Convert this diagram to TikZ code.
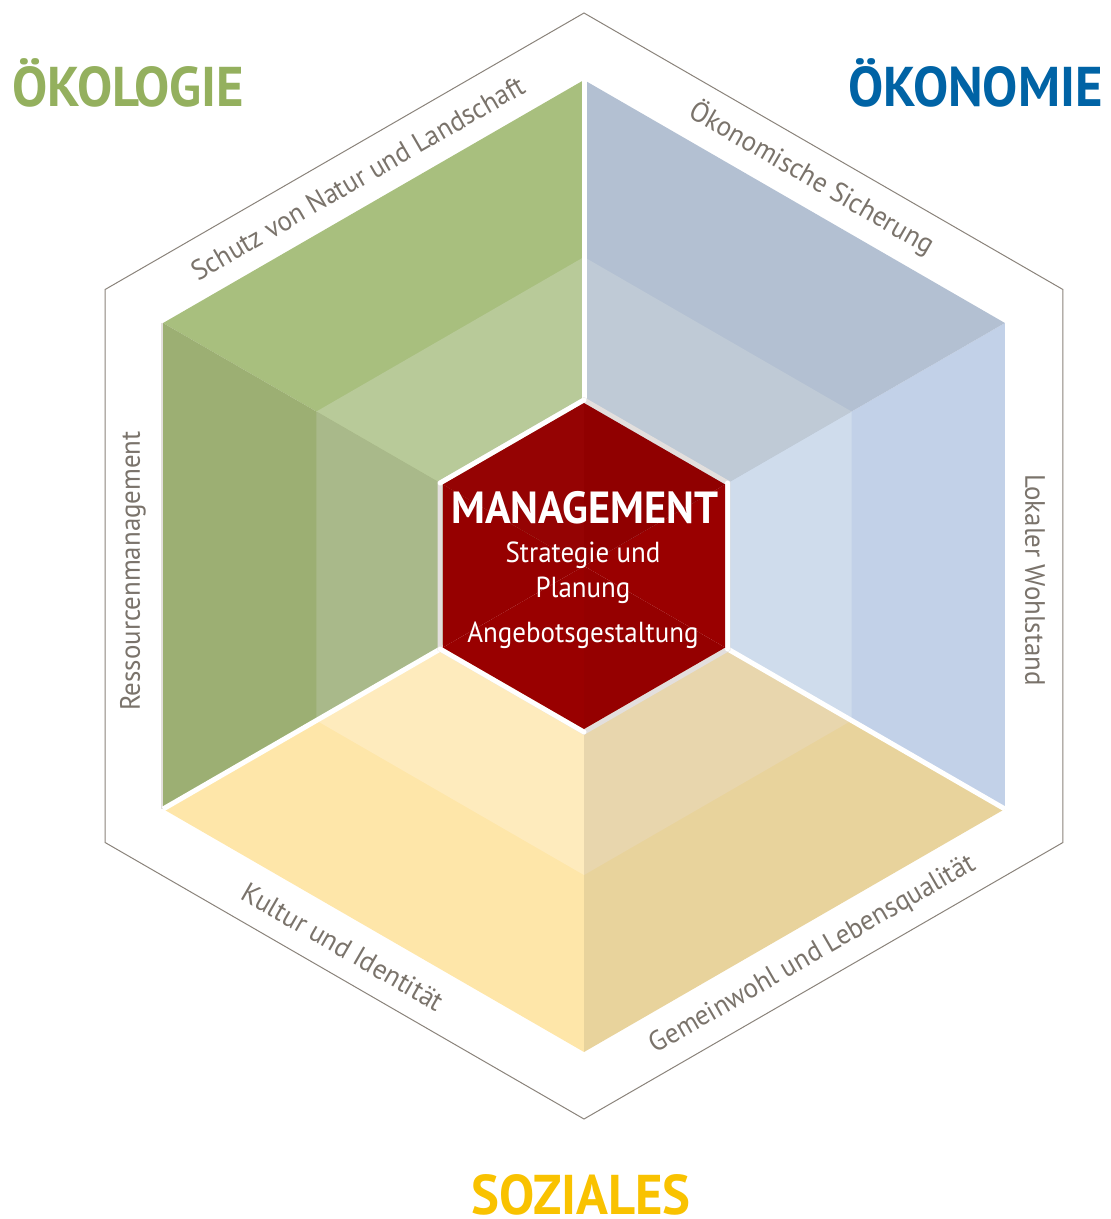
\documentclass[tikz,border=0pt]{standalone}
\usepackage{fontspec}
\setmainfont{PT Sans}
\newfontfamily\titlefont{PT Sans}[FakeStretch=0.94]
\newfontfamily\condfont{PT Sans}[FakeStretch=0.93]
\newfontfamily\labfont{PT Sans}[FakeStretch=0.96]
\definecolor{hexline}{HTML}{8A837B}
\definecolor{labgray}{HTML}{7A736B}
\definecolor{gOutA}{HTML}{A8BF7E}
\definecolor{gInA}{HTML}{B8CA99}
\definecolor{gOutB}{HTML}{9CAF73}
\definecolor{gInB}{HTML}{A9B98A}
\definecolor{yOutA}{HTML}{FEE6A9}
\definecolor{yInA}{HTML}{FEEBBD}
\definecolor{yOutB}{HTML}{E8D39C}
\definecolor{yInB}{HTML}{E8D6AD}
\definecolor{bOutA}{HTML}{C2D1E8}
\definecolor{bInA}{HTML}{CFDCEC}
\definecolor{bOutB}{HTML}{B3C0D2}
\definecolor{bInB}{HTML}{BFCAD6}
\definecolor{redA}{HTML}{950303}
\definecolor{redB}{HTML}{960000}
\definecolor{redC}{HTML}{990000}
\definecolor{redD}{HTML}{950000}
\definecolor{redE}{HTML}{9A0000}
\definecolor{redF}{HTML}{900000}
\definecolor{bevel}{HTML}{E3DFDD}
\definecolor{okogreen}{HTML}{94B05E}
\definecolor{okoblue}{HTML}{0063A5}
\definecolor{sozgold}{HTML}{F9C200}
\tikzset{
  titletext/.style={font=\titlefont\bfseries\fontsize{56}{60}\selectfont, inner sep=0pt},
  edgelabel/.style={font=\labfont\fontsize{28}{30}\selectfont, text=labgray, inner sep=0pt},
  mgmttitle/.style={font=\titlefont\bfseries\fontsize{45}{48}\selectfont, text=white, inner sep=0pt},
  mgmttext/.style={font=\condfont\fontsize{29}{32}\selectfont, text=white, inner sep=0pt},
  sep/.style={white, line width=5pt},
}
\begin{document}
\begin{tikzpicture}[x=1pt,y=-1pt]
\useasboundingbox (0,0) rectangle (1111,1219);
% centre
\coordinate (C) at (584,566);
% outer hexagon
\coordinate (Otop) at (584,13);
\coordinate (OUR) at (1062.9,289.5);
\coordinate (OLR) at (1062.9,842.5);
\coordinate (Obot) at (584,1119);
\coordinate (OLL) at (105.1,842.5);
\coordinate (OUL) at (105.1,289.5);
% coloured hexagon
\coordinate (Ktop) at (584,80);
\coordinate (KUR) at (1004.9,323);
\coordinate (KLR) at (1004.9,809);
\coordinate (Kbot) at (584,1052);
\coordinate (KLL) at (163.1,809);
\coordinate (KUL) at (163.1,323);
% inner light hexagon
\coordinate (Itop) at (584,257);
\coordinate (IUR) at (851.6,411.5);
\coordinate (ILR) at (851.6,720.5);
\coordinate (Ibot) at (584,875);
\coordinate (ILL) at (316.4,720.5);
\coordinate (IUL) at (316.4,411.5);
% red hexagon
\coordinate (Mtop) at (584,403);
\coordinate (MUR) at (725.2,484.5);
\coordinate (MLR) at (725.2,647.5);
\coordinate (Mbot) at (584,729);
\coordinate (MLL) at (442.8,647.5);
\coordinate (MUL) at (442.8,484.5);
% red hexagon border
\coordinate (Btop) at (584,400);
\coordinate (BUR) at (727.8,483);
\coordinate (BLR) at (727.8,649);
\coordinate (Bbot) at (584,732);
\coordinate (BLL) at (440.2,649);
\coordinate (BUL) at (440.2,483);

% outer thin hexagon
\draw[hexline, line width=1pt, line join=miter] (Otop) -- (OUR) -- (OLR) -- (Obot) -- (OLL) -- (OUL) -- cycle;

% outer sectors
\fill[gOutA] (C) -- (Ktop) -- (KUL) -- cycle;
\fill[gOutB] (C) -- (KUL) -- (KLL) -- cycle;
\fill[yOutA] (C) -- (KLL) -- (Kbot) -- cycle;
\fill[yOutB] (C) -- (Kbot) -- (KLR) -- cycle;
\fill[bOutA] (C) -- (KLR) -- (KUR) -- cycle;
\fill[bOutB] (C) -- (KUR) -- (Ktop) -- cycle;
% inner sectors
\fill[gInA] (C) -- (Itop) -- (IUL) -- cycle;
\fill[gInB] (C) -- (IUL) -- (ILL) -- cycle;
\fill[yInA] (C) -- (ILL) -- (Ibot) -- cycle;
\fill[yInB] (C) -- (Ibot) -- (ILR) -- cycle;
\fill[bInA] (C) -- (ILR) -- (IUR) -- cycle;
\fill[bInB] (C) -- (IUR) -- (Itop) -- cycle;

% light edge on the left side
\draw[bevel, line width=2.5pt] ([xshift=-1pt]KUL) -- ([xshift=-1pt]KLL);

% white separators between the faces
\draw[sep] (C) -- (Ktop);
\draw[sep] (C) -- (KLL);
\draw[sep] (C) -- (KLR);

% red hexagon border
\draw[bevel, line width=5pt, line join=miter] (Btop) -- (BUR) -- (BLR) -- (Bbot) -- (BLL) -- (BUL) -- cycle;
\draw[white, line width=5pt, line cap=round] (Btop) -- (BUL);
\draw[white, line width=5pt, line cap=round] (BUR) -- (BLR);
\draw[white, line width=5pt, line cap=round] (BLL) -- (Bbot);
% red hexagon
\fill[redA] (C) -- (Mtop) -- (MUL) -- cycle;
\fill[redB] (C) -- (MUL) -- (MLL) -- cycle;
\fill[redC] (C) -- (MLL) -- (Mbot) -- cycle;
\fill[redD] (C) -- (Mbot) -- (MLR) -- cycle;
\fill[redE] (C) -- (MLR) -- (MUR) -- cycle;
\fill[redF] (C) -- (MUR) -- (Mtop) -- cycle;

% titles
\node[titletext, text=okogreen, anchor=base west] (oko) at (12,106) {ÖKOLOGIE};
\node[titletext, text=okoblue, anchor=base east] (okon) at (1103,106) {ÖKONOMIE};
\node[titletext, text=sozgold, anchor=base] (soz) at (581,1214) {SOZIALES};

% centre text
\node[mgmttitle, anchor=base] (mgmt) at (585,523) {MANAGEMENT};
\node[mgmttext, anchor=base] (strat) at (583,562) {Strategie und};
\node[mgmttext, anchor=base] (plan) at (583,597) {Planung};
\node[mgmttext, anchor=base] (angeb) at (583,642) {Angebotsgestaltung};

% edge labels
\node[edgelabel, rotate=30] (schutz) at (358,178) {Schutz von Natur und Landschaft};
\node[edgelabel, rotate=-30] (sicher) at (812,178) {Ökonomische Sicherung};
\node[edgelabel, rotate=90] (ress) at (133,571) {Ressourcenmanagement};
\node[edgelabel, rotate=-90] (wohl) at (1035,580) {Lokaler Wohlstand};
\node[edgelabel, rotate=-30] (kultur) at (343,947) {Kultur und Identität};
\node[edgelabel, rotate=30] (gemein) at (813,955) {Gemeinwohl und Lebensqualität};
\end{tikzpicture}
\end{document}
